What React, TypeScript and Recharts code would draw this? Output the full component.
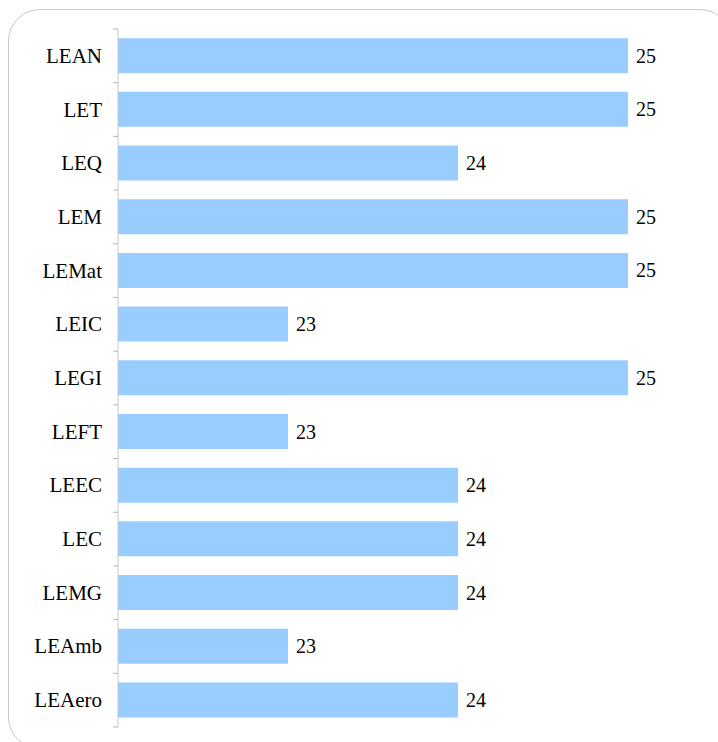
import React from "react"
import { Bar, BarChart, LabelList, XAxis, YAxis } from "recharts"

const categories = ["LEAN", "LET", "LEQ", "LEM", "LEMat", "LEIC", "LEGI", "LEFT", "LEEC", "LEC", "LEMG", "LEAmb", "LEAero"]
const scores = [25, 25, 24, 25, 25, 23, 25, 23, 24, 24, 24, 23, 24]

const data = categories.map((name, i) => ({ name, value: scores[i] }))

const W = 710
const H = 734
const MARGIN = { top: 21, right: 90, bottom: 15, left: 0 }
const PLOT_H = H - MARGIN.top - MARGIN.bottom
const FONT = "Liberation Serif"

// category label centred in its band, small tick marks on the band edges
function CategoryTick(props: any) {
  const { x, y, payload, index, visibleTicksCount } = props
  const band = PLOT_H / categories.length
  const axisX = x + 16
  return (
    <g>
      <line x1={axisX - 5} x2={axisX} y1={y - band / 2} y2={y - band / 2} stroke="#b5b5b5" />
      {index === visibleTicksCount - 1 && (
        <line x1={axisX - 5} x2={axisX} y1={y + band / 2} y2={y + band / 2} stroke="#b5b5b5" />
      )}
      <text x={x} y={y} textAnchor="end" dominantBaseline="central" fill="#000" style={{ fontFamily: FONT, fontSize: 21 }}>
        {payload.value}
      </text>
    </g>
  )
}

export default function App() {
  return (
    <div style={{ position: "fixed", left: 0, top: 0, width: 718, height: 742, overflow: "hidden", background: "#fff", fontFamily: FONT }}>
      <div
        style={{
          position: "absolute",
          left: 8,
          top: 9,
          width: 724,
          height: 740,
          border: "1px solid #c8c8c8",
          borderRadius: 32,
          boxSizing: "border-box",
        }}
      />
      <div style={{ position: "absolute", left: 8, top: 8 }}>
        <BarChart width={W} height={H} data={data} layout="vertical" margin={MARGIN} barCategoryGap="17%" style={{ fontFamily: FONT }}>
          <XAxis type="number" domain={[22, 25]} hide />
          <YAxis
            type="category"
            dataKey="name"
            width={110}
            axisLine={{ stroke: "#c8c8c8" }}
            tickLine={false}
            tickSize={5}
            tickMargin={11}
            interval={0}
            tick={<CategoryTick />}
          />
          <Bar dataKey="value" fill="#99CCFF" isAnimationActive={false}>
            <LabelList dataKey="value" position="right" offset={8} fill="#000" style={{ fontFamily: FONT, fontSize: 20 }} />
          </Bar>
        </BarChart>
      </div>
    </div>
  )
}
